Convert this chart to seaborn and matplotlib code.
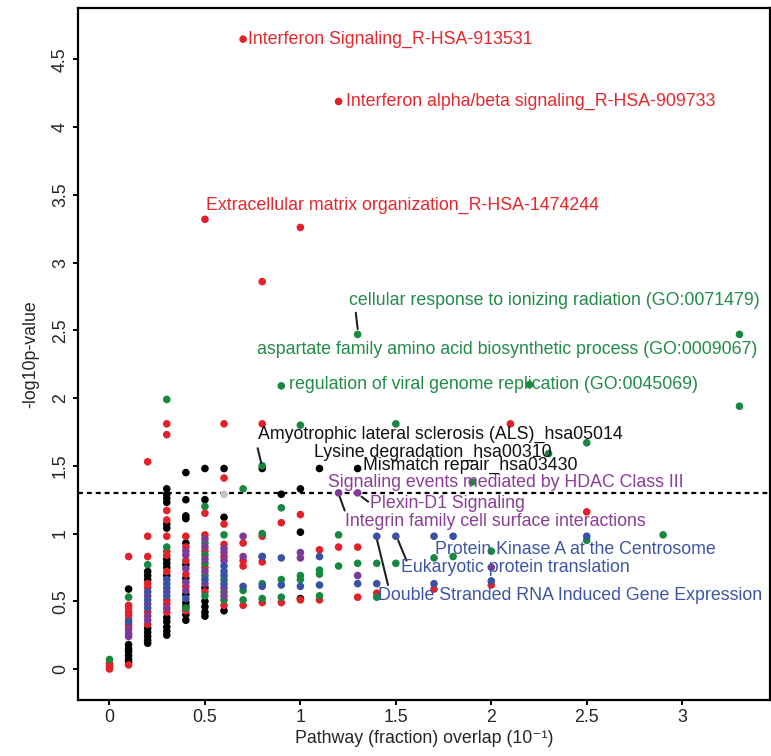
import matplotlib
matplotlib.use("Agg")
import matplotlib.pyplot as plt
import seaborn as sns
import pandas as pd

# ---------------- data ----------------
red_x = [0.7, 1.2, 0.5, 1.0, 0.8, 0.6, 0.8, 2.1, 0.3, 0.3, 0.2,
         0.0, 0.0, 0.0,
         0.1, 0.1, 0.1, 0.1, 0.1, 0.1, 0.1, 0.1, 0.1,
         0.2, 0.2, 0.2, 0.2, 0.2, 0.2,
         0.3, 0.3, 0.3, 0.3, 0.3, 0.3, 0.3, 0.3, 0.3,
         0.4, 0.4, 0.4, 0.4, 0.4, 0.4,
         0.5, 0.5, 0.5, 0.5, 0.5,
         0.6, 0.6, 0.6, 0.6, 0.6,
         0.7, 0.7, 0.7, 0.7,
         0.8, 0.8, 0.8,
         0.9, 0.9, 1.0, 1.0, 1.1, 1.1, 1.2, 1.3, 1.3, 1.4, 1.7, 2.0, 2.5]
red_y = [4.65, 4.19, 3.32, 3.26, 2.86, 1.81, 1.81, 1.81, 1.81, 1.73, 1.53,
         0.00, 0.02, 0.04,
         0.83, 0.47, 0.45, 0.42, 0.40, 0.37, 0.33, 0.31, 0.03,
         0.98, 0.83, 0.63, 0.60, 0.42, 0.33,
         1.17, 1.10, 0.98, 0.87, 0.84, 0.72, 0.51, 0.48, 0.42,
         0.98, 0.90, 0.80, 0.70, 0.61, 0.43,
         1.15, 0.99, 0.87, 0.75, 0.57,
         1.41, 1.07, 0.92, 0.83, 0.47,
         0.93, 0.80, 0.76, 0.47,
         0.98, 0.79, 0.49,
         1.08, 0.49, 1.14, 0.51, 0.88, 0.51, 0.90, 0.90, 0.53, 0.56, 0.59, 0.62, 1.16]

green_x = [1.3, 3.3, 0.9, 2.2, 3.3, 0.3, 1.0, 1.5, 0.8, 0.7, 2.5, 2.3, 1.9,
           0.0, 0.1, 0.2, 0.3, 0.4, 0.5, 0.5, 0.5, 0.5, 0.5, 0.5,
           0.6, 0.6, 0.6, 0.6, 0.7, 0.7, 0.8, 0.8, 0.8,
           0.9, 0.9, 0.9, 1.0, 1.0, 1.1, 1.1, 1.1, 1.2, 1.2, 1.3,
           1.4, 1.4, 1.5, 1.7, 1.8, 2.0, 2.5, 2.9]
green_y = [2.47, 2.47, 2.09, 2.10, 1.94, 1.99, 1.80, 1.81, 1.50, 1.33, 1.67, 1.59, 1.38,
           0.07, 0.53, 0.77, 0.90, 0.45, 1.20, 0.93, 0.84, 0.78, 0.69, 0.54,
           0.99, 0.66, 0.57, 0.51, 0.58, 0.51, 1.00, 0.63, 0.52,
           1.19, 0.66, 0.53, 0.69, 0.66, 0.73, 0.70, 0.54, 0.99, 0.76, 0.78,
           0.78, 0.53, 0.78, 0.82, 0.83, 0.87, 0.95, 0.99]

black_x = [0.8, 1.1, 1.3, 0.4, 0.5, 0.6, 1.0, 0.9,
           0.1, 0.1, 0.1, 0.1, 0.1, 0.1, 0.1,
           0.2, 0.2, 0.2, 0.2, 0.2, 0.2, 0.2, 0.2,
           0.3, 0.3, 0.3, 0.3, 0.3, 0.3, 0.3, 0.3, 0.3, 0.3, 0.3, 0.3, 0.3, 0.3, 0.3,
           0.4, 0.4, 0.4, 0.4, 0.4, 0.4, 0.4, 0.4, 0.4, 0.4, 0.4,
           0.5, 0.5, 0.5, 0.5, 0.5, 0.5,
           0.6, 0.6, 1.0, 1.0]
black_y = [1.48, 1.48, 1.48, 1.45, 1.48, 1.48, 1.33, 1.29,
           0.59, 0.18, 0.15, 0.13, 0.10, 0.07, 0.05,
           0.72, 0.69, 0.66, 0.30, 0.27, 0.24, 0.21, 0.19,
           1.33, 1.29, 1.26, 1.23, 1.07, 1.04, 0.81, 0.78, 0.75, 0.69,
           0.38, 0.35, 0.31, 0.28, 0.25,
           1.25, 1.13, 1.11, 0.93, 0.77, 0.67, 0.55, 0.49, 0.46, 0.40, 0.36,
           1.25, 0.60, 0.50, 0.46, 0.42, 0.39,
           1.12, 0.43, 1.01, 0.52]

blue_x = [0.1, 0.2, 0.2, 0.2, 0.3, 0.3, 0.3, 0.3, 0.4, 0.5, 0.6, 0.6, 0.6, 0.6,
          0.7, 0.8, 0.8, 0.9, 0.9, 1.0, 1.1, 1.1, 1.3, 1.4, 1.4, 1.5, 1.7, 1.7, 1.8,
          2.0, 2.5]
blue_y = [0.35, 0.57, 0.51, 0.45, 0.66, 0.63, 0.60, 0.54, 0.52, 0.66, 0.76, 0.72, 0.69, 0.63,
          0.61, 0.83, 0.61, 0.82, 0.62, 0.61, 0.83, 0.62, 0.63, 0.98, 0.63, 0.98, 0.98, 0.63, 0.98,
          0.65, 0.98]

purple_x = [0.1, 0.1, 0.1, 0.2, 0.2, 0.2, 0.2, 0.3, 0.3, 0.4, 0.4, 0.4, 0.4, 0.4,
            0.5, 0.5, 0.5, 0.5, 0.5, 0.6, 0.6, 0.6, 0.6, 0.6, 0.7, 0.7, 0.8,
            1.0, 1.0, 1.2, 1.3, 1.3, 2.0]
purple_y = [0.29, 0.26, 0.24, 0.54, 0.48, 0.39, 0.36, 0.57, 0.45, 0.87, 0.84, 0.74, 0.64, 0.58,
            0.96, 0.90, 0.81, 0.72, 0.63, 0.89, 0.86, 0.80, 0.60, 0.54, 0.98, 0.83, 0.83,
            0.86, 0.82, 1.30, 1.30, 0.69, 0.75]

grey_x = [0.6]
grey_y = [1.29]

labels = [
    ("Interferon Signaling_R-HSA-913531", 0.724, 4.65, "red"),
    ("Interferon alpha/beta signaling_R-HSA-909733", 1.238, 4.19, "red"),
    ("Extracellular matrix organization_R-HSA-1474244", 0.503, 3.42, "red"),
    ("cellular response to ionizing radiation (GO:0071479)", 1.253, 2.72, "green"),
    ("aspartate family amino acid biosynthetic process (GO:0009067)", 0.771, 2.36, "green"),
    ("regulation of viral genome replication (GO:0045069)", 0.94, 2.10, "green"),
    ("Amyotrophic lateral sclerosis (ALS)_hsa05014", 0.776, 1.73, "black"),
    ("Lysine degradation_hsa00310", 1.07, 1.60, "black"),
    ("Mismatch repair_hsa03430", 1.33, 1.50, "black"),
    ("Signaling events mediated by HDAC Class III", 1.143, 1.38, "purple"),
    ("Plexin-D1 Signaling", 1.363, 1.22, "purple"),
    ("Integrin family cell surface interactions", 1.232, 1.09, "purple"),
    ("Protein Kinase A at the Centrosome", 1.704, 0.885, "blue"),
    ("Eukaryotic protein translation", 1.526, 0.75, "blue"),
    ("Double Stranded RNA Induced Gene Expression", 1.405, 0.546, "blue"),
]

leaders = [
    ((1.29, 2.63), (1.30, 2.51)),
    ((0.776, 1.63), (0.795, 1.52)),
    ((1.320, 1.272), (1.355, 1.235)),
    ((1.206, 1.27), (1.232, 1.17)),
    ((1.512, 0.95), (1.556, 0.80)),
    ((1.402, 0.95), (1.459, 0.62)),
]

threshold = 1.3
xticks = [0, 0.5, 1, 1.5, 2, 2.5, 3]
xticklabels = ["0", "0.5", "1", "1.5", "2", "2.5", "3"]
yticks = [0, 0.5, 1, 1.5, 2, 2.5, 3, 3.5, 4, 4.5]
yticklabels = ["0", "0.5", "1", "1.5", "2", "2.5", "3", "3.5", "4", "4.5"]

# ---------------- style ----------------
dot_colors = {"red": "#E4202A", "green": "#17883F", "black": "#000000",
              "blue": "#3853A4", "purple": "#7E3A96", "grey": "#C4C4C4"}
text_colors = {"red": "#E8272D", "green": "#218B48", "black": "#111111",
               "purple": "#8A3D96", "blue": "#3E55A6"}

sns.set_style("ticks")
plt.rcParams["font.family"] = ["Liberation Sans", "DejaVu Sans"]
FS = 12.8

frames = []
for name, xs, ys in [("black", black_x, black_y), ("red", red_x, red_y),
                     ("green", green_x, green_y), ("purple", purple_x, purple_y),
                     ("blue", blue_x, blue_y), ("grey", grey_x, grey_y)]:
    frames.append(pd.DataFrame({"x": xs, "y": ys, "group": name}))
df = pd.concat(frames, ignore_index=True)

fig = plt.figure(figsize=(7.71, 7.56), dpi=100)
ax = fig.add_axes([78 / 771, 1 - 700 / 756, (770 - 78) / 771, (700 - 8) / 756])

sns.scatterplot(data=df, x="x", y="y", hue="group", palette=dot_colors,
                s=30, linewidth=0, legend=False, ax=ax, zorder=3)

ax.axhline(threshold, color="black", lw=1.6, ls=(0, (2.2, 1.8)), zorder=2)

for (x0, y0), (x1, y1) in leaders:
    ax.plot([x0, x1], [y0, y1], color="#222222", lw=1.5, zorder=4)

for txt, tx, ty, c in labels:
    ax.text(tx, ty, txt, color=text_colors[c], fontsize=FS, ha="left",
            va="center", zorder=5)

ax.set_xlim(-0.165, 3.46)
ax.set_ylim(-0.229, 4.88)
ax.set_xticks(xticks)
ax.set_xticklabels(xticklabels, fontsize=FS)
ax.set_yticks(yticks)
ax.set_yticklabels(yticklabels, fontsize=FS, rotation=90, va="center")
ax.tick_params(axis="both", direction="out", length=3.5, width=1.4, color="black", pad=3)
for sp in ax.spines.values():
    sp.set_visible(True)
    sp.set_linewidth(1.6)
    sp.set_color("black")

ax.set_xlabel("Pathway (fraction) overlap (10⁻¹)", fontsize=FS, labelpad=3)
ax.set_ylabel("-log10p-value", fontsize=FS, labelpad=9)

fig.savefig("out.png", dpi=100)
